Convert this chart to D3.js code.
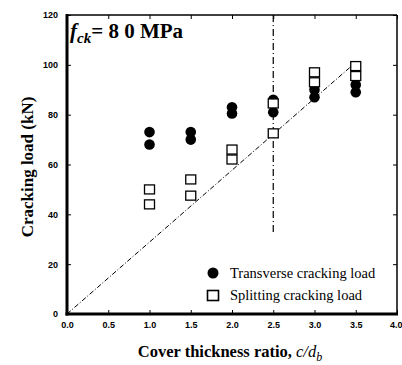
<!DOCTYPE html>
<html><head><meta charset="utf-8">
<script src="https://cdn.jsdelivr.net/npm/d3@7"></script>
<style>body{margin:0;background:#fff}svg{display:block}</style>
</head><body>
<svg id="c" width="402" height="365"></svg>
<script>
const transX = [1.0,1.0,1.5,1.5,2.0,2.0,2.5,2.5,3.0,3.0,3.5,3.5];
const transY = [73,68,73,70,83,80.5,86,81,90,87,92,89];
const splitX = [1.0,1.0,1.5,1.5,2.0,2.0,2.5,2.5,3.0,3.0,3.5,3.5];
const splitY = [50,44,54,47.5,66,62,84.5,72.5,97,93,99.5,95.5];
const diagX = [0,3.5];
const diagY = [0,101];
const vertX = [2.5,2.5];
const vertY = [120,32];
const xTicks = [0,0.5,1,1.5,2,2.5,3,3.5,4];
const yTicks = [0,20,40,60,80,100,120];

const svg = d3.select("#c");
const L=67,R=397,T=15,B=314;
const x = d3.scaleLinear().domain([0,4]).range([L,R]);
const y = d3.scaleLinear().domain([0,120]).range([B,T]);

const line = d3.line().x(d=>x(d[0])).y(d=>y(d[1]));
svg.append("path").attr("d",line(d3.zip(diagX,diagY))).attr("fill","none")
  .attr("stroke","#000").attr("stroke-width",1).attr("stroke-dasharray","5,2,1,2");
svg.append("path").attr("d",line(d3.zip(vertX,vertY))).attr("fill","none")
  .attr("stroke","#000").attr("stroke-width",1.2).attr("stroke-dasharray","7,3,1,3");

const fontTick = "bold 9px 'Liberation Sans', Arial, sans-serif";
const gx = svg.append("g").attr("transform",`translate(0,${B})`)
  .call(d3.axisBottom(x).tickValues(xTicks).tickFormat(d3.format(".1f")).tickSizeInner(-4).tickSizeOuter(0).tickPadding(8));
const gy = svg.append("g").attr("transform",`translate(${L},0)`)
  .call(d3.axisLeft(y).tickValues(yTicks).tickSizeInner(-4).tickSizeOuter(0).tickPadding(9));
const gt = svg.append("g").attr("transform",`translate(0,${T})`)
  .call(d3.axisTop(x).tickValues(xTicks).tickFormat("").tickSizeInner(-4).tickSizeOuter(0));
const gr = svg.append("g").attr("transform",`translate(${R},0)`)
  .call(d3.axisRight(y).tickValues(yTicks).tickFormat("").tickSizeInner(-4).tickSizeOuter(0));
[gx,gy,gt,gr].forEach(g=>{g.select(".domain").remove();g.selectAll("text").style("font",fontTick).attr("fill","#000");g.selectAll("line").attr("stroke","#000");});
gx.selectAll(".tick").filter(d=>d===4).select("text").attr("text-anchor","end").attr("dx",5);
svg.append("line").attr("x1",L).attr("x2",R).attr("y1",T).attr("y2",T).attr("stroke","#000").attr("stroke-width",1.5);
svg.append("line").attr("x1",R).attr("x2",R).attr("y1",T).attr("y2",B).attr("stroke","#000").attr("stroke-width",1.5);
svg.append("line").attr("x1",L).attr("x2",L).attr("y1",T-1).attr("y2",B+1.5).attr("stroke","#000").attr("stroke-width",3);
svg.append("line").attr("x1",L-1.5).attr("x2",R+1).attr("y1",B).attr("y2",B).attr("stroke","#000").attr("stroke-width",3);

svg.append("g").selectAll("circle").data(d3.zip(transX,transY)).join("circle")
  .attr("cx",d=>x(d[0])).attr("cy",d=>y(d[1])).attr("r",5.3).attr("fill","#000");
svg.append("g").selectAll("rect").data(d3.zip(splitX,splitY)).join("rect")
  .attr("x",d=>x(d[0])-5).attr("y",d=>y(d[1])-4.5).attr("width",10).attr("height",9)
  .attr("fill","#fff").attr("stroke","#000").attr("stroke-width",1.3);

const serif = "'Liberation Serif','Times New Roman',serif";
svg.append("circle").attr("cx",213).attr("cy",273).attr("r",5.5).attr("fill","#000");
svg.append("rect").attr("x",207.5).attr("y",290.5).attr("width",11).attr("height",10).attr("fill","#fff").attr("stroke","#000").attr("stroke-width",1.6);
svg.append("text").attr("x",230).attr("y",278).style("font",`14.5px ${serif}`).text("Transverse cracking load");
svg.append("text").attr("x",230).attr("y",300).style("font",`14.5px ${serif}`).text("Splitting cracking load");

const ann = svg.append("text").attr("x",70).attr("y",38).style("font",`bold 21px ${serif}`);
ann.append("tspan").style("font-style","italic").text("f");
ann.append("tspan").style("font-style","italic").style("font-size","15px").attr("dy",5).text("ck");
ann.append("tspan").attr("dy",-5).text("= 8 0 MPa");

svg.append("text").attr("transform","translate(33,167) rotate(-90)").attr("text-anchor","middle")
  .style("font",`bold 17px ${serif}`).text("Cracking load (kN)");
const xt = svg.append("text").attr("x",230).attr("y",357).attr("text-anchor","middle").style("font",`bold 16.5px ${serif}`);
xt.append("tspan").text("Cover thickness ratio, ");
xt.append("tspan").style("font-style","italic").style("font-weight","normal").text("c/d");
xt.append("tspan").style("font-style","italic").style("font-weight","normal").style("font-size","12px").attr("dy",4).text("b");
</script>
</body></html>
